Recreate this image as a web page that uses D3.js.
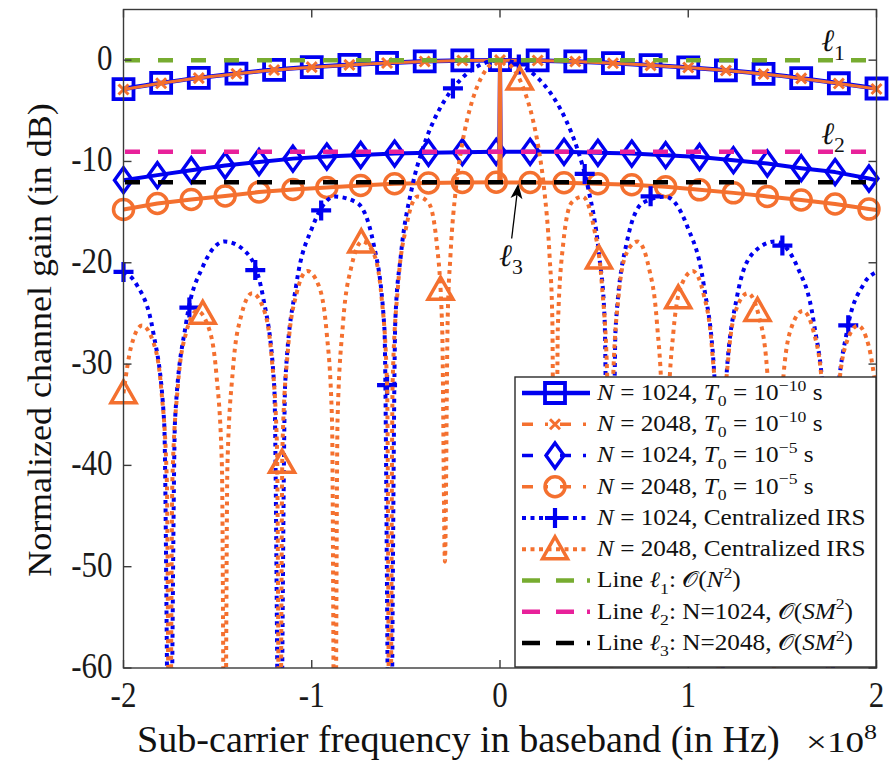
<!DOCTYPE html>
<html><head><meta charset="utf-8">
<script src="https://cdn.jsdelivr.net/npm/d3@7"></script>
<style>body{margin:0;background:#fff}svg{display:block}</style>
</head><body>
<svg id="chart" width="891" height="763"></svg>
<script>
// ---------------- data ----------------
const xTicks = [-2, -1, 0, 1, 2];
const yTicks = [0, -10, -20, -30, -40, -50, -60];

// T0 = 1e-10 s  (markers every 0.2)
const freqT10 = [-2,-1.8,-1.6,-1.4,-1.2,-1,-0.8,-0.6,-0.4,-0.2,0,0.2,0.4,0.6,0.8,1,1.2,1.4,1.6,1.8,2];
const gainN1024T10 = [-2.85,-2.25,-1.75,-1.32,-0.95,-0.68,-0.46,-0.27,-0.12,-0.03,0,-0.03,-0.13,-0.29,-0.5,-0.72,-1.0,-1.35,-1.78,-2.28,-2.8];
const gainN2048T10 = [-2.9,-2.28,-1.77,-1.34,-0.97,-0.69,-0.47,-0.28,-0.13,-0.03,0,-0.03,-0.13,-0.3,-0.51,-0.73,-1.02,-1.37,-1.8,-2.3,-2.85];

// T0 = 1e-5 s : marker positions
const freqT5Mark = [-2,-1.82,-1.64,-1.46,-1.28,-1.1,-0.92,-0.74,-0.56,-0.38,-0.2,-0.02,0.16,0.34,0.52,0.7,0.88,1.06,1.24,1.42,1.6,1.78,1.96];
const gainN1024T5Mark = [-11.85,-11.35,-10.86,-10.4,-10.05,-9.72,-9.52,-9.36,-9.22,-9.15,-9.08,-9.05,-9.05,-9.05,-9.15,-9.22,-9.38,-9.56,-9.87,-10.2,-10.66,-11.05,-11.68];
const gainN2048T5Mark = [-14.74,-14.15,-13.75,-13.4,-13.02,-12.77,-12.57,-12.37,-12.2,-12.12,-12.08,-12.05,-12.08,-12.1,-12.2,-12.3,-12.5,-12.8,-13.1,-13.45,-13.8,-14.2,-14.7];
// T0 = 1e-5 s : full line (with the spike at f = 0)
const freqT5Line = [-2,-1.82,-1.64,-1.46,-1.28,-1.1,-0.92,-0.74,-0.56,-0.38,-0.2,-0.02,-0.004,0,0.004,0.16,0.34,0.52,0.7,0.88,1.06,1.24,1.42,1.6,1.78,1.96,2];
const gainN1024T5Line = [-11.85,-11.35,-10.86,-10.4,-10.05,-9.72,-9.52,-9.36,-9.22,-9.15,-9.08,-9.05,-9.05,0,-9.05,-9.05,-9.05,-9.15,-9.22,-9.38,-9.56,-9.87,-10.2,-10.66,-11.05,-11.68,-11.85];
const gainN2048T5Line = [-14.74,-14.15,-13.75,-13.4,-13.02,-12.77,-12.57,-12.37,-12.2,-12.12,-12.08,-12.05,-12.05,0,-12.06,-12.08,-12.1,-12.2,-12.3,-12.5,-12.8,-13.1,-13.45,-13.8,-14.2,-14.7,-14.8];

// Centralized IRS, N = 1024
const freqCent1024 = [-2,-1.9305,-1.843,-1.784,-1.755,-1.726,-1.667,-1.5795,-1.4625,-1.3455,-1.258,-1.199,-1.17,-1.141,-1.082,-0.9945,-0.8775,-0.7605,-0.673,-0.614,-0.585,-0.5558,-0.5265,-0.468,-0.4095,-0.351,-0.2925,-0.234,-0.1755,-0.117,-0.0585,0,0.0585,0.117,0.1755,0.234,0.2925,0.351,0.4095,0.468,0.5265,0.5558,0.585,0.614,0.673,0.7605,0.8775,0.9945,1.082,1.141,1.17,1.199,1.258,1.3455,1.4625,1.5795,1.667,1.726,1.755,1.784,1.843,1.9305,2];
const gainCent1024 = [-20.9,-22.15,-26.77,-35.74,-80,-35.45,-25.9,-20.41,-17.9,-19.02,-23.45,-32.29,-80,-31.85,-22.15,-16.39,-13.47,-14.06,-18.02,-26.48,-80,-25.6,-19.23,-12.62,-8.69,-5.94,-3.92,-2.42,-1.33,-0.58,-0.14,0,-0.14,-0.58,-1.33,-2.42,-3.92,-5.94,-8.69,-12.62,-19.23,-25.6,-80,-26.48,-18.02,-14.06,-13.47,-16.39,-22.15,-31.85,-80,-32.29,-23.45,-19.02,-17.9,-20.41,-25.9,-35.45,-80,-35.74,-26.77,-22.15,-20.9];
const freqPlus = [-2,-1.65,-1.3,-0.95,-0.6,-0.25,0.1,0.45,0.8,1.15,1.5,1.85];
const gainPlus = [-20.9,-24.42,-20.72,-14.83,-32.07,-2.79,-0.42,-11.23,-13.44,-35.2,-18.3,-26.17];

// Centralized IRS, N = 2048
const freqCent2048 = [-2,-1.9598,-1.9013,-1.8428,-1.7989,-1.7696,-1.755,-1.7404,-1.7111,-1.6673,-1.6088,-1.5503,-1.5064,-1.4771,-1.4625,-1.4479,-1.4186,-1.3748,-1.3163,-1.2578,-1.2139,-1.1846,-1.17,-1.1554,-1.1261,-1.0823,-1.0238,-0.9653,-0.9214,-0.8921,-0.8775,-0.8629,-0.8336,-0.7898,-0.7313,-0.6728,-0.6289,-0.5996,-0.585,-0.5704,-0.5411,-0.4973,-0.4388,-0.3803,-0.3364,-0.3071,-0.2925,-0.278,-0.263,-0.234,-0.2048,-0.1755,-0.146,-0.117,-0.0878,-0.0585,-0.0293,0,0.0293,0.0585,0.0878,0.117,0.146,0.1755,0.2048,0.234,0.263,0.278,0.2925,0.3071,0.3364,0.3803,0.4388,0.4973,0.5411,0.5704,0.585,0.5996,0.6289,0.6728,0.7313,0.7898,0.8336,0.8629,0.8775,0.8921,0.9214,0.9653,1.0238,1.0823,1.1261,1.1554,1.17,1.1846,1.2139,1.2578,1.3163,1.3748,1.4186,1.4479,1.4625,1.4771,1.5064,1.5503,1.6088,1.6673,1.7111,1.7404,1.755,1.7696,1.7989,1.8428,1.9013,1.9598,2];
const gainCent2048 = [-32.88,-28.3,-26.2,-27.77,-32.58,-41.69,-80,-41.54,-32.15,-26.9,-24.75,-26.27,-31.04,-40.12,-80,-39.95,-30.52,-25.23,-23.01,-24.45,-29.16,-38.2,-80,-37.99,-28.51,-23.15,-20.82,-22.15,-26.77,-35.74,-80,-35.45,-25.9,-20.41,-17.9,-19.02,-23.45,-32.29,-80,-31.85,-22.15,-16.39,-13.47,-14.06,-18.02,-26.48,-49.5,-25.6,-19.23,-12.62,-8.69,-5.94,-3.92,-2.42,-1.33,-0.58,-0.14,0,-0.14,-0.58,-1.33,-2.42,-3.92,-5.94,-8.69,-12.62,-19.23,-25.6,-80,-26.48,-18.02,-14.06,-13.47,-16.39,-22.15,-31.85,-80,-32.29,-23.45,-19.02,-17.9,-20.41,-25.9,-35.45,-80,-35.74,-26.77,-22.15,-20.82,-23.15,-28.51,-37.99,-80,-38.2,-29.16,-24.45,-23.01,-25.23,-30.52,-39.95,-80,-40.12,-31.04,-26.27,-24.75,-26.9,-32.15,-41.54,-80,-41.69,-32.58,-27.77,-26.2,-28.3,-32.88];
const freqTri = [-2,-1.579,-1.158,-0.737,-0.316,0.105,0.526,0.947,1.368,1.789];
const gainTri = [-32.88,-25.04,-39.75,-17.99,-22.66,-1.92,-19.59,-23.51,-24.75,-37.2];

// reference lines
const refLevels = [0, -9.03, -12.04];
// annotation arrow for l3 (data units)
const arrowFrom = [0.062, -17.6];
const arrowTo = [0.097, -12.2];

// ---------------- drawing ----------------
const W = 891, H = 763;
const svg = d3.select('#chart');
const x = d3.scaleLinear().domain([-2, 2]).range([123.5, 876.5]);
const y = d3.scaleLinear().domain([-60, 5]).range([668, 9.5]);
const C = {blue:'#0000f0', orange:'#f4702f', green:'#77ac30', pink:'#e8219a', black:'#000000'};
const serif = "'Liberation Serif','DejaVu Serif',serif";

svg.append('rect').attr('width', W).attr('height', H).attr('fill', '#fff');
svg.append('defs').append('clipPath').attr('id', 'clip').append('rect')
  .attr('x', x(-2)).attr('y', y(5)).attr('width', x(2) - x(-2)).attr('height', y(-60) - y(5));

const zip = (xs, ys) => xs.map((v, i) => [v, ys[i]]);
const lineGen = d3.line().x(d => x(d[0])).y(d => y(d[1])).curve(d3.curveMonotoneX);
const lineLin = d3.line().x(d => x(d[0])).y(d => y(d[1]));

function markerPath(type) {
  switch (type) {
    case 'square': return 'M-10,-10H10V10H-10Z';
    case 'xmark': return 'M-5,-5L5,5M-5,5L5,-5';
    case 'diamond': return 'M0,-12.5L9,0L0,12.5L-9,0Z';
    case 'circle': return d3.symbol(d3.symbolCircle, Math.PI * 10 * 10)();
    case 'plus': return 'M-10,0H10M0,-10V10';
    case 'triangle': return 'M0,-12.5L12.5,9.5L-12.5,9.5Z';
  }
}
const markerStroke = {square:3.8, xmark:3, diamond:3.4, circle:3.5, plus:4.2, triangle:3.5};

function drawMarkers(g, pts, type, color) {
  g.selectAll(null).data(pts).enter().append('path')
    .attr('transform', d => `translate(${x(d[0])},${y(d[1])})`)
    .attr('d', markerPath(type)).attr('fill', 'none')
    .attr('stroke', color).attr('stroke-width', markerStroke[type]);
}
function seriesLine(g, pts, gen, color, width, dash) {
  g.append('path').attr('d', gen(pts)).attr('fill', 'none')
    .attr('stroke', color).attr('stroke-width', width)
    .attr('stroke-dasharray', dash || null).attr('stroke-linejoin', 'round')
    .attr('clip-path', 'url(#clip)');
}

// series 1: N=1024, T0=1e-10
const s1 = svg.append('g');
seriesLine(s1, zip(freqT10, gainN1024T10), lineGen, C.blue, 4.5);
drawMarkers(s1, zip(freqT10, gainN1024T10), 'square', C.blue);
// series 2: N=2048, T0=1e-10
const s2 = svg.append('g');
seriesLine(s2, zip(freqT10, gainN2048T10), lineGen, C.orange, 3);
drawMarkers(s2, zip(freqT10, gainN2048T10), 'xmark', C.orange);
// series 3: N=1024, T0=1e-5
const s3 = svg.append('g');
seriesLine(s3, zip(freqT5Line, gainN1024T5Line), lineLin, C.blue, 4);
drawMarkers(s3, zip(freqT5Mark, gainN1024T5Mark), 'diamond', C.blue);
// series 4: N=2048, T0=1e-5
const s4 = svg.append('g');
seriesLine(s4, zip(freqT5Line, gainN2048T5Line), lineLin, C.orange, 4);
drawMarkers(s4, zip(freqT5Mark, gainN2048T5Mark), 'circle', C.orange);
// series 5: centralized N=1024
const s5 = svg.append('g');
seriesLine(s5, zip(freqCent1024, gainCent1024), lineGen, C.blue, 4, '4,4.5');
drawMarkers(s5, zip(freqPlus, gainPlus), 'plus', C.blue);
// series 6: centralized N=2048
const s6 = svg.append('g');
seriesLine(s6, zip(freqCent2048, gainCent2048), lineGen, C.orange, 4, '4,4.5');
drawMarkers(s6, zip(freqTri, gainTri), 'triangle', C.orange);
// reference lines
const refColors = [C.green, C.pink, C.black];
refLevels.forEach((lv, i) => {
  svg.append('path').attr('d', lineLin([[-2, lv], [2, lv]])).attr('fill', 'none')
    .attr('stroke', refColors[i]).attr('stroke-width', 4.5).attr('stroke-dasharray', '15,18')
    .attr('stroke-dashoffset', -1.5);
});

// ---------------- axes box & ticks ----------------
const axG = svg.append('g');
const axColor = '#3a3a3a';
axG.append('rect').attr('x', x(-2)).attr('y', y(5)).attr('width', x(2) - x(-2)).attr('height', y(-60) - y(5))
  .attr('fill', 'none').attr('stroke', axColor).attr('stroke-width', 1.4);
const tl = 8;
xTicks.forEach(t => {
  axG.append('line').attr('x1', x(t)).attr('x2', x(t)).attr('y1', y(-60)).attr('y2', y(-60) - tl).attr('stroke', axColor).attr('stroke-width', 1.4);
  axG.append('line').attr('x1', x(t)).attr('x2', x(t)).attr('y1', y(5)).attr('y2', y(5) + tl).attr('stroke', axColor).attr('stroke-width', 1.4);
});
yTicks.forEach(t => {
  axG.append('line').attr('x1', x(-2)).attr('x2', x(-2) + tl).attr('y1', y(t)).attr('y2', y(t)).attr('stroke', axColor).attr('stroke-width', 1.4);
  axG.append('line').attr('x1', x(2)).attr('x2', x(2) - tl).attr('y1', y(t)).attr('y2', y(t)).attr('stroke', axColor).attr('stroke-width', 1.4);
});

// scale a text element about an anchor point (the reference text is drawn tall and narrow)
function stretch(t, sx, sy, ax, ay) {
  t.attr('transform', `translate(${ax},${ay}) scale(${sx},${sy}) translate(${-ax},${-ay})`);
}
const tickFont = 31, tickSy = 1.15;
xTicks.forEach(t => {
  const tx = axG.append('text').attr('x', x(t)).attr('y', 707).attr('text-anchor', 'middle')
    .attr('font-family', serif).attr('font-size', tickFont).attr('fill', '#1a1a1a').text(String(t));
  stretch(tx, 1, tickSy, x(t), 707);
});
yTicks.forEach(t => {
  const ty = axG.append('text').attr('x', 112.5).attr('y', y(t) + 10).attr('text-anchor', 'end')
    .attr('font-family', serif).attr('font-size', tickFont).attr('fill', '#1a1a1a').text(String(t));
  stretch(ty, 1, tickSy, 112.5, y(t) + 10);
});

// ---------------- rich text helper ----------------
function richText(g, segs, px, py, size, family) {
  const t = g.append('text').attr('x', px).attr('y', py).attr('font-size', size)
    .attr('font-family', family || serif).attr('fill', '#111');
  let shift = 0;
  segs.forEach(s => {
    const ts = t.append('tspan').text(s.t);
    let target = 0;
    if (s.sub) target = size * 0.28;
    if (s.sup) target = -size * 0.42;
    if (target - shift !== 0) ts.attr('dy', target - shift);
    shift = target;
    if (s.sub || s.sup) ts.attr('font-size', size * 0.7);
    if (s.i) ts.attr('font-style', 'italic');
  });
  return t;
}

// axis labels
const xl = axG.append('text').attr('x', 137).attr('y', 752).attr('font-family', serif)
  .attr('font-size', 31).attr('fill', '#111').text('Sub-carrier frequency in baseband (in Hz)');
stretch(xl, 643 / xl.node().getBBox().width, 1.25, 137, 752);
const xe = richText(axG, [{t:'×10'}, {t:'8', sup:true}], 806, 752, 26);
stretch(xe, 71 / xe.node().getBBox().width, 1.15, 806, 752);
const yl = axG.append('text').attr('text-anchor', 'middle')
  .attr('font-family', serif).attr('font-size', 33).attr('fill', '#111').text('Normalized channel gain (in dB)');
const ylw = yl.node().getBBox().width;
yl.attr('transform', `translate(51,340) rotate(-90) scale(${474 / ylw},1)`);

// l labels
const ell = '\u2113';
const l1 = richText(svg, [{t: ell, i: true}, {t: '1', sub: true}], x(1.77) - 12, y(0) - 9, 31);
const l2 = richText(svg, [{t: ell, i: true}, {t: '2', sub: true}], x(1.77) - 12, y(-9.03) - 8, 31);
const l3 = richText(svg, [{t: ell, i: true}, {t: '3', sub: true}], x(0.0) - 1, y(-20.3), 31);
// arrow
const ax1 = x(arrowFrom[0]), ay1 = y(arrowFrom[1]), ax2 = x(arrowTo[0]), ay2 = y(arrowTo[1]);
const ang = Math.atan2(ay2 - ay1, ax2 - ax1);
svg.append('line').attr('x1', ax1).attr('y1', ay1).attr('x2', ax2 - 10 * Math.cos(ang)).attr('y2', ay2 - 10 * Math.sin(ang))
  .attr('stroke', '#000').attr('stroke-width', 1.3);
svg.append('path').attr('transform', `translate(${ax2},${ay2}) rotate(${ang * 180 / Math.PI})`)
  .attr('d', 'M0,0L-15,-6L-11,0L-15,6Z').attr('fill', '#000');

// ---------------- legend ----------------
const leg = svg.append('g');
leg.append('rect').attr('x', 515).attr('y', 377).attr('width', 361).attr('height', 290)
  .attr('fill', '#fff').attr('stroke', '#2a2a2a').attr('stroke-width', 1.4);
const O = '\u{1D4AA}';
const legendItems = [
  {segs:[{t:'N',i:1},{t:' = 1024, '},{t:'T',i:1},{t:'0',sub:1},{t:' = 10'},{t:'\u221210',sup:1},{t:' s'}], color:C.blue, w:4.5, dash:null, mk:'square'},
  {segs:[{t:'N',i:1},{t:' = 2048, '},{t:'T',i:1},{t:'0',sub:1},{t:' = 10'},{t:'\u221210',sup:1},{t:' s'}], color:C.orange, w:3.5, dash:'11,12,3,12', mk:'xmark'},
  {segs:[{t:'N',i:1},{t:' = 1024, '},{t:'T',i:1},{t:'0',sub:1},{t:' = 10'},{t:'\u22125',sup:1},{t:' s'}], color:C.blue, w:3.5, dash:'11,12,3,12', mk:'diamond'},
  {segs:[{t:'N',i:1},{t:' = 2048, '},{t:'T',i:1},{t:'0',sub:1},{t:' = 10'},{t:'\u22125',sup:1},{t:' s'}], color:C.orange, w:3.5, dash:'11,12,3,12', mk:'circle'},
  {segs:[{t:'N',i:1},{t:' = 1024, Centralized IRS'}], color:C.blue, w:4, dash:'4,4.5', mk:'plus'},
  {segs:[{t:'N',i:1},{t:' = 2048, Centralized IRS'}], color:C.orange, w:4, dash:'4,4.5', mk:'triangle'},
  {segs:[{t:'Line '},{t:ell,i:1},{t:'1',sub:1},{t:': '},{t:O},{t:'('},{t:'N',i:1},{t:'2',sup:1},{t:')'}], color:C.green, w:4.5, dash:'18,16,18,13', mk:null},
  {segs:[{t:'Line '},{t:ell,i:1},{t:'2',sub:1},{t:': N=1024, '},{t:O},{t:'('},{t:'SM',i:1},{t:'2',sup:1},{t:')'}], color:C.pink, w:4.5, dash:'18,16,18,13', mk:null},
  {segs:[{t:'Line '},{t:ell,i:1},{t:'3',sub:1},{t:': N=2048, '},{t:O},{t:'('},{t:'SM',i:1},{t:'2',sup:1},{t:')'}], color:C.black, w:4.5, dash:'18,16,18,13', mk:null}
];
const texts = [];
legendItems.forEach((it, i) => {
  const cy = 393 + i * 31.25;
  leg.append('line').attr('x1', 522).attr('x2', 590).attr('y1', cy).attr('y2', cy)
    .attr('stroke', it.color).attr('stroke-width', it.w).attr('stroke-dasharray', it.dash);
  if (it.mk) {
    leg.append('path').attr('transform', `translate(555,${cy})`).attr('d', markerPath(it.mk))
      .attr('fill', 'none').attr('stroke', it.color).attr('stroke-width', markerStroke[it.mk]);
  }
  texts.push({t: richText(leg, it.segs, 597, cy + 7, 21), cy: cy + 7});
});
const sx = 270 / texts[5].t.node().getBBox().width;
texts.forEach(o => stretch(o.t, sx, 1.05, 597, o.cy));
</script>
</body></html>
